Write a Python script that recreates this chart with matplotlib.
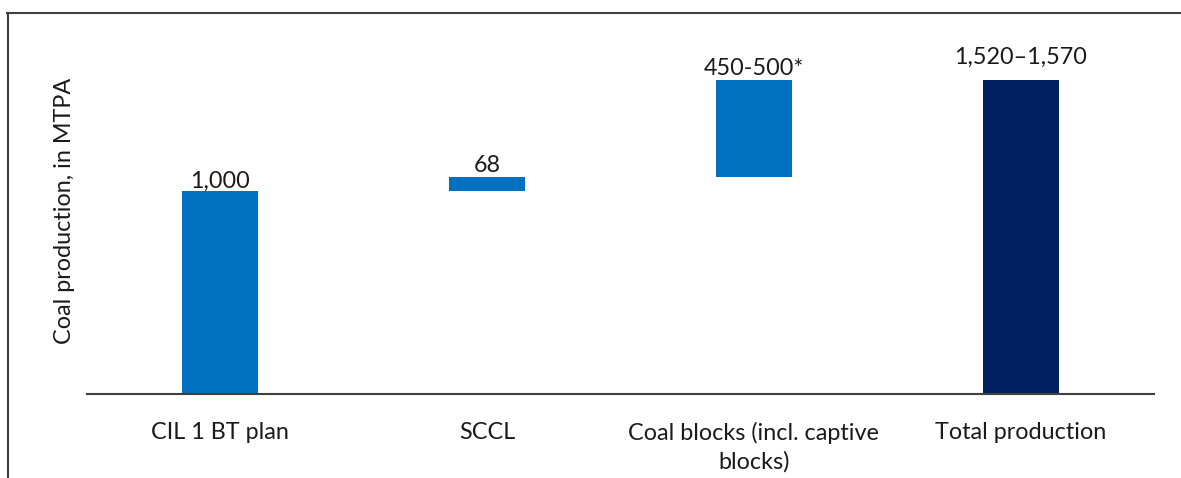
import numpy as np
import matplotlib.pyplot as plt
from matplotlib.lines import Line2D

categories = ["CIL 1 BT plan", "SCCL", "Coal blocks (incl. captive\nblocks)", "Total production"]
steps = [1000, 68, 475]          # blocks: midpoint of 450-500
value_labels = ["1,000", "68", "450-500*", "1,520\u20131,570"]
label_offsets = [-2, 0, 0, 8]    # extra gap above bar, points

BLUE = "#0070C0"
NAVY = "#002060"

plt.rcParams["font.family"] = ["Lato", "DejaVu Sans"]
FS = 16.8

fig = plt.figure(figsize=(11.81, 4.78), dpi=100)
ax = fig.add_axes([87 / 1181, (478 - 394) / 478, (1154 - 87) / 1181, (394 - 12) / 478])

# waterfall: increments float on the running total, last bar is the total
bottoms = list(np.concatenate([[0], np.cumsum(steps)[:-1]]))
heights = list(steps)
total = sum(steps)
bottoms.append(0)
heights.append(total)
colors = [BLUE, BLUE, BLUE, NAVY]

x = np.arange(len(categories))
ax.bar(x, heights, bottom=bottoms, width=0.285, color=colors)

for i in range(len(categories)):
    top = bottoms[i] + heights[i]
    ax.annotate(value_labels[i], (x[i], top), xytext=(0, 1 + label_offsets[i]),
                textcoords="offset points", ha="center", va="bottom",
                fontsize=FS, color="#1a1a1a")

ax.set_xlim(-0.5, len(categories) - 0.5)
ax.set_ylim(0, 1880)
ax.set_xticks(x)
ax.set_xticklabels(categories, fontsize=FS, color="#1a1a1a", linespacing=1.4)
ax.tick_params(axis="x", length=0, pad=20)
ax.set_yticks([])
for side in ["top", "right", "left"]:
    ax.spines[side].set_visible(False)
ax.spines["bottom"].set_color("#404040")
ax.spines["bottom"].set_linewidth(1.5)

fig.text(65 / 1181, 1 - 211 / 478, "Coal production, in MTPA", rotation=90,
         ha="center", va="center", fontsize=FS, color="#1a1a1a")

# outer frame (top and left edges only visible)
fig.add_artist(Line2D([7 / 1181, 1], [1 - 12.5 / 478, 1 - 12.5 / 478],
                      transform=fig.transFigure, color="#404040", lw=1.5))
fig.add_artist(Line2D([8 / 1181, 8 / 1181], [0, 1 - 12.5 / 478],
                      transform=fig.transFigure, color="#404040", lw=1.5))

fig.savefig("out.png", dpi=100)
